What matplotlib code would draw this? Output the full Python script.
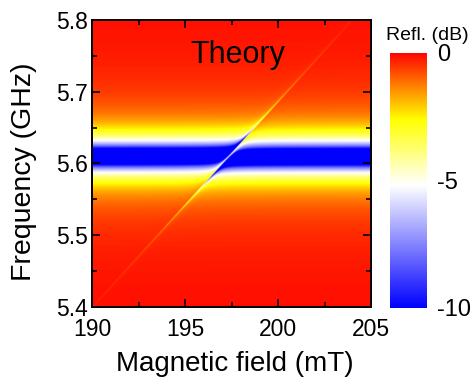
import numpy as np
import matplotlib
matplotlib.use("Agg")
import matplotlib.pyplot as plt
from matplotlib.colors import LinearSegmentedColormap
from matplotlib.ticker import MultipleLocator

plt.rcParams['font.family'] = ['Liberation Sans', 'DejaVu Sans']

# axis ranges
field_range = [190, 205]        # mT
freq_range = [5.4, 5.8]         # GHz

# model parameters (GHz, mT)
f_cav = 5.609       # cavity mode (centre of blue band)
kappa_e = 0.017     # external cavity damping
kappa_i = 0.017     # intrinsic cavity damping
g_coup = 0.0055     # magnon-photon coupling
gamma_m = 0.0008    # magnon damping
gyro = 0.0285       # GHz per mT, slope of magnon line
B_cross = 197.35    # field where magnon meets cavity

cbar_ticks = [0, -5, -10]
cbar_labels = ['0', '-5', '-10']

B = np.linspace(field_range[0], field_range[1], 900)
f = np.linspace(freq_range[0], freq_range[1], 2000)
BB, FF = np.meshgrid(B, f)
f_mag = f_cav + gyro * (BB - B_cross)
kappa = kappa_e + kappa_i
s11 = 1 - 2 * kappa_e / (1j * (FF - f_cav) + kappa + g_coup ** 2 / (1j * (FF - f_mag) + gamma_m))
refl_db = 10 * np.log10(np.abs(s11) ** 2)

cmap = LinearSegmentedColormap.from_list('refl', [
    (0.0, (0, 0, 1)),
    (0.48, (1, 1, 1)),
    (0.74, (1, 1, 0)),
    (0.86, (1, 0.55, 0)),
    (1.0, (1, 0.02, 0)),
])

fig = plt.figure(figsize=(4.75, 3.81), dpi=100)
ax = fig.add_axes([0.194, 0.194, 0.587, 0.754])
im = ax.imshow(refl_db, origin='lower', aspect='auto', cmap=cmap, vmin=-10, vmax=0,
               extent=[field_range[0], field_range[1], freq_range[0], freq_range[1]],
               interpolation='bilinear')
ax.set_xlim(field_range)
ax.set_ylim(freq_range)
ax.xaxis.set_major_locator(MultipleLocator(5))
ax.xaxis.set_minor_locator(MultipleLocator(2.5))
ax.yaxis.set_major_locator(MultipleLocator(0.1))
ax.yaxis.set_minor_locator(MultipleLocator(0.05))
ax.tick_params(which='both', direction='in', top=True, right=True, width=1.2, labelsize=16.5)
ax.tick_params(which='major', length=6)
ax.tick_params(which='minor', length=3.5)
ax.tick_params(axis='x', pad=8)
ax.tick_params(axis='y', pad=3)
for sp in ax.spines.values():
    sp.set_linewidth(1.4)
fig.text(235 / 475, 1 - 364 / 381, 'Magnetic field (mT)', fontsize=20, ha='center', va='center')
fig.text(24 / 475, 1 - 172 / 381, 'Frequency (GHz)', fontsize=20.5, rotation=90,
         ha='center', va='center')
ax.text(0.521, 0.85, 'Theory', transform=ax.transAxes, fontsize=22,
        ha='center', va='baseline')

cax = fig.add_axes([0.822, 0.192, 0.077, 0.669])
cb = fig.colorbar(im, cax=cax, ticks=cbar_ticks)
cb.outline.set_visible(False)
cb.set_ticklabels(cbar_labels)
cax.tick_params(length=0, pad=7, labelsize=17)
fig.text(0.9, 1 - 35 / 381, 'Refl. (dB)', fontsize=14, ha='center', va='center')

fig.savefig('out.png', dpi=100)
